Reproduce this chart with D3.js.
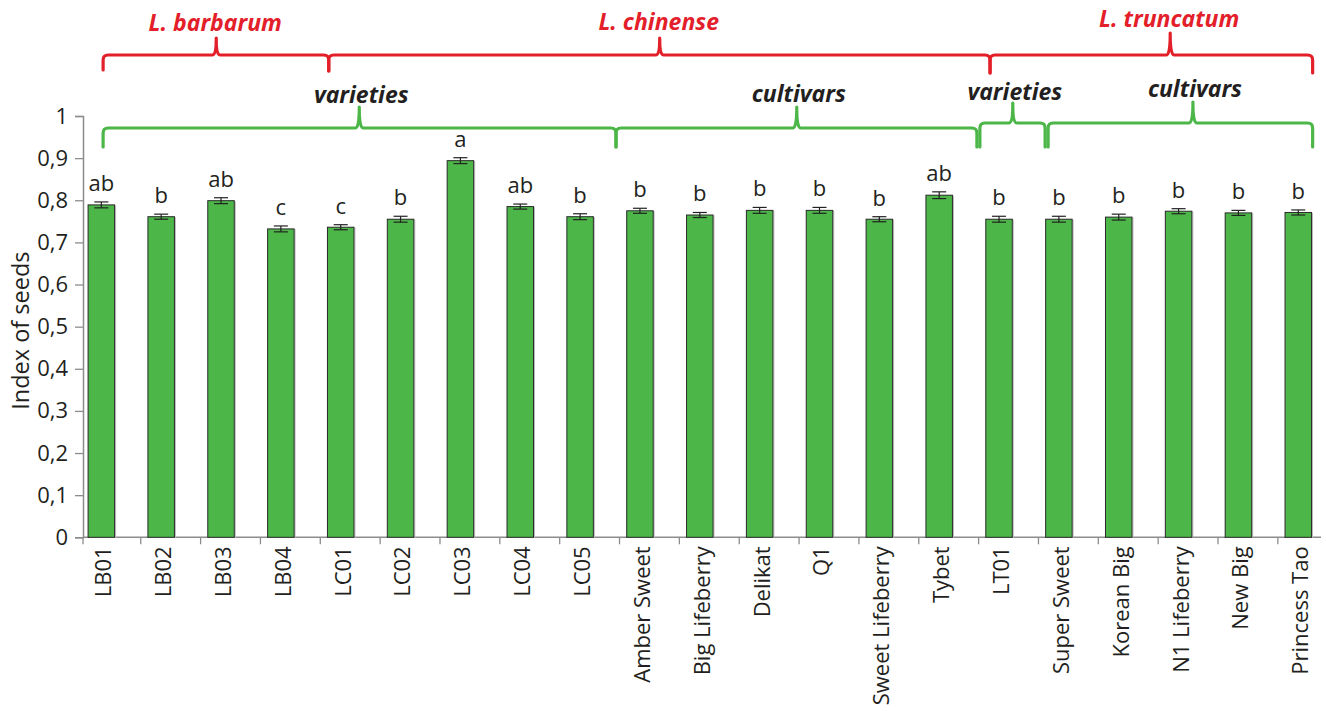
<!DOCTYPE html>
<html>
<head>
<meta charset="utf-8">
<script src="https://cdn.jsdelivr.net/npm/d3@7"></script>
<style>
  html, body { margin: 0; padding: 0; background: #fff; }
  svg { display: block; }
  text { font-family: "Open Sans", "Noto Sans", sans-serif; fill: #231f20; }
</style>
</head>
<body>
<svg id="chart" width="1326" height="711"></svg>
<script>
// ---------------- data ----------------
const categories = ["LB01","LB02","LB03","LB04","LC01","LC02","LC03","LC04","LC05",
  "Amber Sweet","Big Lifeberry","Delikat","Q1","Sweet Lifeberry","Tybet",
  "LT01","Super Sweet","Korean Big","N1 Lifeberry","New Big","Princess Tao"];
const values = [0.789,0.761,0.799,0.732,0.736,0.755,0.894,0.785,0.761,
  0.775,0.765,0.776,0.776,0.755,0.812,
  0.755,0.755,0.760,0.774,0.770,0.771];
const errors = [0.007,0.006,0.007,0.007,0.006,0.007,0.007,0.006,0.007,
  0.006,0.006,0.007,0.007,0.006,0.008,
  0.007,0.007,0.007,0.006,0.006,0.006];
const letters = ["ab","b","ab","c","c","b","a","ab","b",
  "b","b","b","b","b","ab",
  "b","b","b","b","b","b"];
const yTicks = [0,0.1,0.2,0.3,0.4,0.5,0.6,0.7,0.8,0.9,1];
const yTitle = "Index of seeds";

// group brackets, spans in category-index units
const speciesNames = ["L. barbarum","L. chinense","L. truncatum"];
const speciesStart = [0.03, 3.80, 14.85];
const speciesEnd   = [3.80, 14.85, 20.24];
const speciesPeak  = [1.92, 9.33, 17.86];

const typeNames = ["varieties","cultivars","varieties","cultivars"];
const typeStart = [0.03, 8.60, 14.68, 15.82];
const typeEnd   = [8.60, 14.63, 15.77, 20.24];
const typePeak  = [4.31, 11.62, 15.23, 18.24];
const typeRow   = [0, 0, 1, 1];

// ---------------- layout ----------------
const svg = d3.select("#chart");
const plotTop = 116, plotBottom = 537.3, axisLeft = 83, axisRight = 1321;
const x = d3.scalePoint().domain(categories).range([71.4, 1328.2]).padding(0.5);
const step = x.step();
const idx = u => x(categories[0]) + u * step;
const y = d3.scaleLinear().domain([0, 1]).range([plotBottom, plotTop]);
const barW = 26.5;
const green = "#4cb748", red = "#e3202a", axisGray = "#8c8c8c";

// y axis
const yAxis = d3.axisLeft(y).tickValues(yTicks).tickSize(8).tickPadding(7)
  .tickFormat(d => d3.format(".1f")(d).replace(".", ",").replace(/^0,0$/, "0").replace(/^1,0$/, "1"));
const gy = svg.append("g").attr("transform", `translate(${axisLeft},0)`).call(yAxis);
gy.select(".domain").attr("stroke", axisGray).attr("stroke-width", 1.5);
gy.selectAll(".tick line").attr("stroke", axisGray).attr("stroke-width", 1.3);
gy.selectAll(".tick text").attr("font-size", 22).attr("fill", "#231f20")
  .attr("font-family", "Open Sans");

svg.append("text").attr("transform", `translate(29,${(plotTop + plotBottom) / 2 + 4}) rotate(-90)`)
  .attr("text-anchor", "middle").attr("font-size", 23.5).text(yTitle);

// x axis line and ticks
svg.append("line").attr("x1", axisLeft).attr("x2", axisRight)
  .attr("y1", plotBottom).attr("y2", plotBottom)
  .attr("stroke", axisGray).attr("stroke-width", 1.5);
const tickXs = [axisLeft].concat(categories.slice(0, -1).map(c => x(c) + step / 2 + 9.5));
svg.append("g").selectAll("line").data(tickXs).join("line")
  .attr("x1", d => d).attr("x2", d => d)
  .attr("y1", plotBottom).attr("y2", plotBottom + 7)
  .attr("stroke", axisGray).attr("stroke-width", 1.3);

// category labels
svg.append("g").selectAll("text").data(categories).join("text")
  .attr("transform", c => `translate(${x(c) + 2},${plotBottom + 9}) rotate(-90)`)
  .attr("text-anchor", "end").attr("dy", "0.36em").attr("font-size", 22)
  .text(c => c);

// bars
const bars = svg.append("g");
bars.selectAll("rect.shadow").data(categories).join("rect").attr("class", "shadow")
  .attr("x", c => x(c) - barW / 2 + 1).attr("y", (c, i) => y(values[i]) + 1)
  .attr("width", barW).attr("height", (c, i) => plotBottom - y(values[i]) - 1)
  .attr("fill", "none").attr("stroke", "#bbbbbb").attr("stroke-width", 1);
bars.selectAll("rect.bar").data(categories).join("rect").attr("class", "bar")
  .attr("x", c => x(c) - barW / 2).attr("y", (c, i) => y(values[i]))
  .attr("width", barW).attr("height", (c, i) => plotBottom - y(values[i]))
  .attr("fill", green).attr("stroke", "#2a2a2a").attr("stroke-width", 1);

// error bars
const eb = svg.append("g").attr("stroke", "#222").attr("stroke-width", 1.2);
categories.forEach((c, i) => {
  const cx = x(c), t = y(values[i] + errors[i]), b = y(values[i] - errors[i]);
  eb.append("line").attr("x1", cx).attr("x2", cx).attr("y1", t).attr("y2", b);
  eb.append("line").attr("x1", cx - 7).attr("x2", cx + 7).attr("y1", t).attr("y2", t);
  eb.append("line").attr("x1", cx - 7).attr("x2", cx + 7).attr("y1", b).attr("y2", b);
});

// significance letters
svg.append("g").selectAll("text").data(categories).join("text")
  .attr("x", c => x(c)).attr("y", (c, i) => y(values[i] + errors[i]) - 11)
  .attr("text-anchor", "middle").attr("font-size", 22)
  .text((c, i) => letters[i]);

// bracket path generator
function bracket(x0, x1, xm, yL, yEnd0, yEnd1, yPeak) {
  const r = 5, n = 4;
  return `M${x0},${yEnd0} L${x0},${yL + r} Q${x0},${yL} ${x0 + r},${yL}` +
    ` L${xm - n},${yL} Q${xm},${yL} ${xm},${yPeak + 2} L${xm},${yPeak}` +
    ` M${xm},${yPeak + 2} Q${xm},${yL} ${xm + n},${yL}` +
    ` L${x1 - r},${yL} Q${x1},${yL} ${x1},${yL + r} L${x1},${yEnd1}`;
}

// species brackets (red)
const redY = 55;
const redEnd0 = [70, 71, 73], redEnd1 = [71, 73, 73], redPeak = [38, 38, 33];
const redLabelY = [31, 30, 27];
speciesNames.forEach((s, i) => {
  svg.append("path").attr("d", bracket(idx(speciesStart[i]), idx(speciesEnd[i]), idx(speciesPeak[i]),
      redY, redEnd0[i], redEnd1[i], redPeak[i]))
    .attr("fill", "none").attr("stroke", red).attr("stroke-width", 3.2)
    .attr("stroke-linecap", "round");
  svg.append("text").attr("x", idx(speciesPeak[i]) - 1).attr("y", redLabelY[i])
    .attr("text-anchor", "middle").attr("font-size", 23).attr("font-weight", 700)
    .attr("font-style", "italic").style("fill", red).text(s);
});

// type brackets (green)
const greenY = [128, 123];
const greenPeak = [107, 107, 103, 102];
const greenLabelY = [103, 102, 100, 97];
typeNames.forEach((s, i) => {
  const gyy = greenY[typeRow[i]];
  svg.append("path").attr("d", bracket(idx(typeStart[i]), idx(typeEnd[i]), idx(typePeak[i]),
      gyy, 147, 147, greenPeak[i]))
    .attr("fill", "none").attr("stroke", green).attr("stroke-width", 3.2)
    .attr("stroke-linecap", "round");
  svg.append("text").attr("x", idx(typePeak[i]) + 2).attr("y", greenLabelY[i])
    .attr("text-anchor", "middle").attr("font-size", 23).attr("font-weight", 700)
    .attr("font-style", "italic").style("fill", "#231f20").text(s);
});
</script>
</body>
</html>
